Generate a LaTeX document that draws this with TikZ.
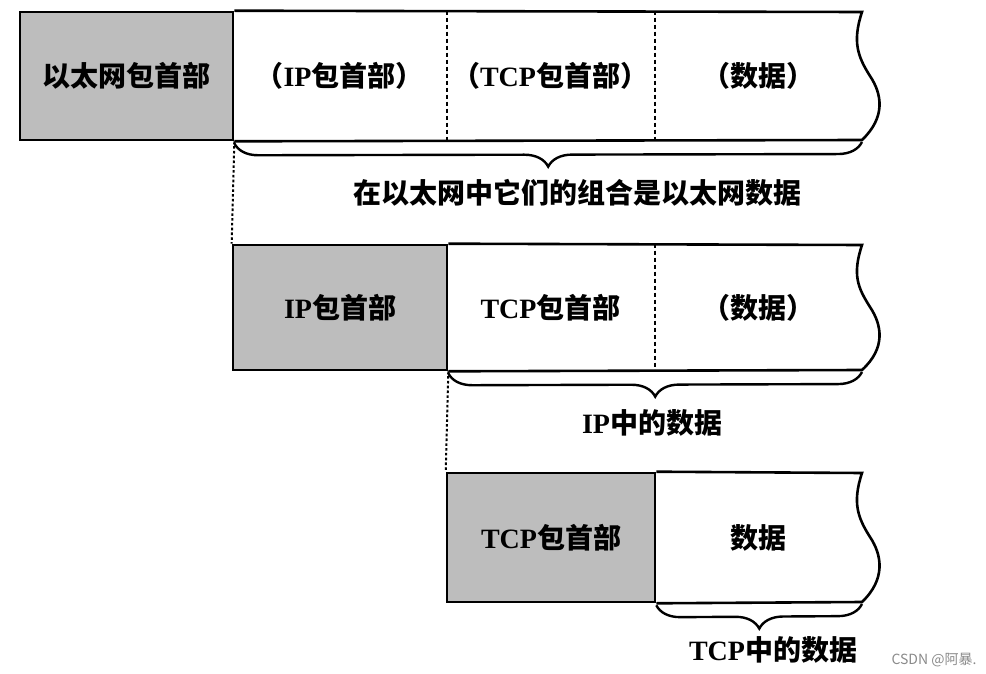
\documentclass[tikz,border=0pt]{standalone}
\usepackage{fontspec}
\setmainfont{Liberation Serif}
\newfontfamily\cjk{Noto Sans CJK SC}
\usepackage{tikz}
\usetikzlibrary{decorations.pathreplacing,fit,positioning}
\newcommand\zh[1]{{\cjk #1}}
\definecolor{HdrGray}{HTML}{BDBDBD}
\definecolor{MarkGray}{HTML}{8A8A8A}
\tikzset{
  every picture/.style={line width=1.3pt},
  cellbox/.style={inner sep=0pt},
  hdrbox/.style={cellbox, draw=black, fill=HdrGray},
  celltext/.style={font=\bfseries\fontsize{14}{17}\selectfont, inner sep=1pt},
  sepline/.style={line width=1pt, dash pattern=on 2.2pt off 1.3pt},
  linkline/.style={line width=1pt, dash pattern=on 1.3pt off 1.1pt},
  underbrace/.style={decorate, decoration={brace, mirror, amplitude=12pt}, line width=1.2pt},
  bracelabel/.style={font=\bfseries\fontsize{14}{17}\selectfont, inner sep=1pt},
  watermark/.style={font=\cjk\fontsize{7}{8}\selectfont, text=MarkGray, inner sep=0pt}
}
\begin{document}
\begin{tikzpicture}[x=0.5pt,y=-0.5pt]
  \useasboundingbox (0,0) rectangle (986,674);

  % Ethernet frame
  \node[hdrbox, fit={(20,12) (233,140)}] (ethhdr) {};
  \node[cellbox, fit={(233,12) (446,140)}] (ethip) {};
  \node[cellbox, fit={(446,12) (654,140)}] (ethtcp) {};
  \node[cellbox, fit={(654,12) (862,140)}] (ethdata) {};
  \node[celltext] (ethhdrtxt) at (ethhdr) {\zh{以太网包首部}};
  \node[celltext] (ethiptxt) at (ethip) {\zh{（}IP\zh{包首部）}};
  \node[celltext] (ethtcptxt) at (ethtcp) {\zh{（}TCP\zh{包首部）}};
  \node[celltext] (ethdatatxt) at (ethdata) {\zh{（数据）}};
  \coordinate (ethtop) at (862,12);
  \coordinate (ethbot) at (862,140);
  \draw (ethhdr.north east) -- (ethtop)
    .. controls +(-10,30) and +(-12,-19) .. ++(8,64)
    .. controls +(12,18) and +(24,-23) .. (ethbot) -- (ethhdr.south east);
  \draw[sepline] (ethip.north east) -- (ethip.south east);
  \draw[sepline] (ethtcp.north east) -- (ethtcp.south east);
  \draw[underbrace] ([yshift=-1pt]ethhdr.south east) -- ([yshift=-1pt]ethbot);
  \node[bracelabel] (ethlabel) at (577,193) {\zh{在以太网中它们的组合是以太网数据}};

  % IP datagram
  \node[hdrbox, fit={(233,245) (447,370)}] (iphdr) {};
  \node[cellbox, fit={(447,245) (654,370)}] (iptcp) {};
  \node[cellbox, fit={(654,245) (862,370)}] (ipdata) {};
  \node[celltext] (iphdrtxt) at (iphdr) {IP\zh{包首部}};
  \node[celltext] (iptcptxt) at (iptcp) {TCP\zh{包首部}};
  \node[celltext] (ipdatatxt) at (ipdata) {\zh{（数据）}};
  \coordinate (iptop) at (862,245);
  \coordinate (ipbot) at (862,370);
  \draw (iphdr.north east) -- (iptop)
    .. controls +(-10,30) and +(-12,-19) .. ++(8,62)
    .. controls +(12,18) and +(24,-22) .. (ipbot) -- (iphdr.south east);
  \draw[sepline] (iptcp.north east) -- (iptcp.south east);
  \draw[underbrace] ([yshift=-1pt]iphdr.south east) -- ([yshift=-1pt]ipbot);
  \node[bracelabel] (iplabel) at (652,423) {IP\zh{中的数据}};
  \draw[linkline] (ethhdr.south east) -- (iphdr.north west);

  % TCP segment
  \node[hdrbox, fit={(447,473) (655,602)}] (tcphdr) {};
  \node[cellbox, fit={(655,473) (862,602)}] (tcpdata) {};
  \node[celltext] (tcphdrtxt) at (tcphdr) {TCP\zh{包首部}};
  \node[celltext] (tcpdatatxt) at (tcpdata) {\zh{数据}};
  \coordinate (tcptop) at (862,473);
  \coordinate (tcpbot) at (862,602);
  \draw (tcphdr.north east) -- (tcptop)
    .. controls +(-10,30) and +(-12,-19) .. ++(8,64)
    .. controls +(12,18) and +(24,-23) .. (tcpbot) -- (tcphdr.south east);
  \draw[underbrace] ([yshift=-1pt]tcphdr.south east) -- ([yshift=-1pt]tcpbot);
  \node[bracelabel] (tcplabel) at (773,650) {TCP\zh{中的数据}};
  \draw[linkline] (iphdr.south east) -- (tcphdr.north west);

  \node[watermark] (mark) at (934,660) {CSDN @阿暴.};
\end{tikzpicture}
\end{document}
